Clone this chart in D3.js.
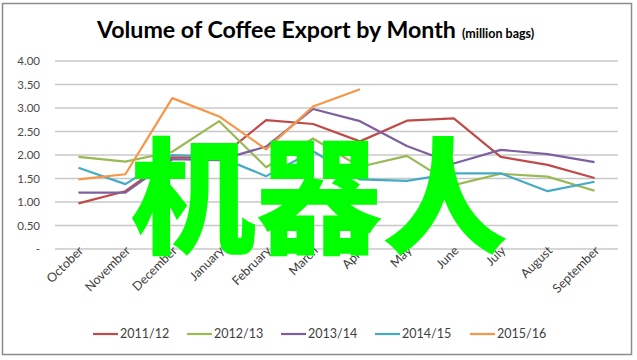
<!DOCTYPE html>
<html><head><meta charset="utf-8">
<script src="https://cdn.jsdelivr.net/npm/d3@7"></script>
<style>body{margin:0;background:#fff}</style>
</head><body>
<svg id="c" width="637" height="360"></svg>
<script>
const months = ["October","November","December","January","February","March","April","May","June","July","August","September"];
const seriesNames = ["2011/12","2012/13","2013/14","2014/15","2015/16"];
const colors = ["#BE4B48","#98B954","#7D60A0","#46AAC5","#F79646"];
const s2011 = [0.97,1.23,1.95,1.94,2.74,2.66,2.29,2.73,2.78,1.96,1.79,1.51];
const s2012 = [1.96,1.86,2.07,2.72,1.74,2.35,1.75,1.98,1.36,1.60,1.54,1.24];
const s2013 = [1.20,1.20,1.91,1.89,2.18,2.98,2.72,2.19,1.82,2.11,2.02,1.85];
const s2014 = [1.73,1.38,2.00,1.96,1.55,2.08,1.48,1.45,1.61,1.61,1.23,1.43];
const s2015 = [1.48,1.59,3.21,2.82,2.12,3.03,3.40];
const yTicks = [0,0.5,1,1.5,2,2.5,3,3.5,4];
const allSeries = [s2011,s2012,s2013,s2014,s2015];

const svg = d3.select("#c");
svg.append("rect").attr("x",2.5).attr("y",3.5).attr("width",629).attr("height",351)
  .attr("fill","#fff").attr("stroke","#8c8c8c").attr("stroke-width",1.5);

const x = d3.scalePoint().domain(months).range([55,618]).padding(0.5);
const y = d3.scaleLinear().domain([0,4]).range([249,61]);

// gridlines
svg.append("g").selectAll("line").data(yTicks).join("line")
  .attr("x1",55).attr("x2",618).attr("y1",d=>y(d)).attr("y2",d=>y(d))
  .attr("stroke","#c8c8c8").attr("stroke-width",1.5);

// y axis
const yAxis = d3.axisLeft(y).tickValues(yTicks).tickSize(0).tickPadding(0)
  .tickFormat(d=> d===0 ? "-" : d3.format(".2f")(d));
const gy = svg.append("g").attr("transform","translate(40,0)").call(yAxis);
gy.select(".domain").remove();
gy.selectAll("text").attr("font-family","Lato, 'Open Sans', sans-serif").attr("font-size",11.5).attr("fill","#4a4a4a");

// x axis
const xAxis = d3.axisBottom(x).tickSize(0).tickPadding(0);
const gx = svg.append("g").attr("transform","translate(0,252)").call(xAxis);
gx.select(".domain").remove();
gx.selectAll("text").attr("font-family","Lato, 'Open Sans', sans-serif").attr("font-size",12.5).attr("fill","#404040")
  .attr("text-anchor","end").attr("dy",0).attr("y",0).attr("x",4)
  .attr("transform","rotate(-45)").attr("dominant-baseline","middle");

// lines
const line = d3.line().x((d,i)=>x(months[i])).y(d=>y(d));
svg.append("g").selectAll("path").data(allSeries).join("path")
  .attr("d",line).attr("fill","none").attr("stroke",(d,i)=>colors[i])
  .attr("stroke-width",2.2).attr("stroke-linejoin","round");

// title
const t = svg.append("text").attr("x",97).attr("y",38)
  .attr("font-family","Lato, 'Open Sans', sans-serif").attr("fill","#000");
t.append("tspan").attr("font-size",23.2).attr("font-weight","bold").text("Volume of Coffee Export by Month");
t.append("tspan").attr("font-size",12.5).attr("font-weight","bold").attr("dx",6).text("(million bags)");

// legend
const legX = [93,187,281,375,470];
const lg = svg.append("g").selectAll("g").data(seriesNames).join("g")
  .attr("transform",(d,i)=>`translate(${legX[i]},334)`);
lg.append("line").attr("x1",0).attr("x2",25).attr("stroke",(d,i)=>colors[i]).attr("stroke-width",2.2);
lg.append("text").attr("x",27).attr("dy","0.35em").attr("font-family","Lato, 'Open Sans', sans-serif")
  .attr("font-size",12.5).attr("fill","#404040").text(d=>d);

// watermark
svg.append("text").attr("x",319).attr("y",189).attr("text-anchor","middle").attr("dominant-baseline","central")
  .attr("font-family","'Noto Sans CJK SC', sans-serif").attr("font-weight","900").attr("font-size",126)
  .attr("fill","#00FF00").text("机器人");
</script>
</body></html>
